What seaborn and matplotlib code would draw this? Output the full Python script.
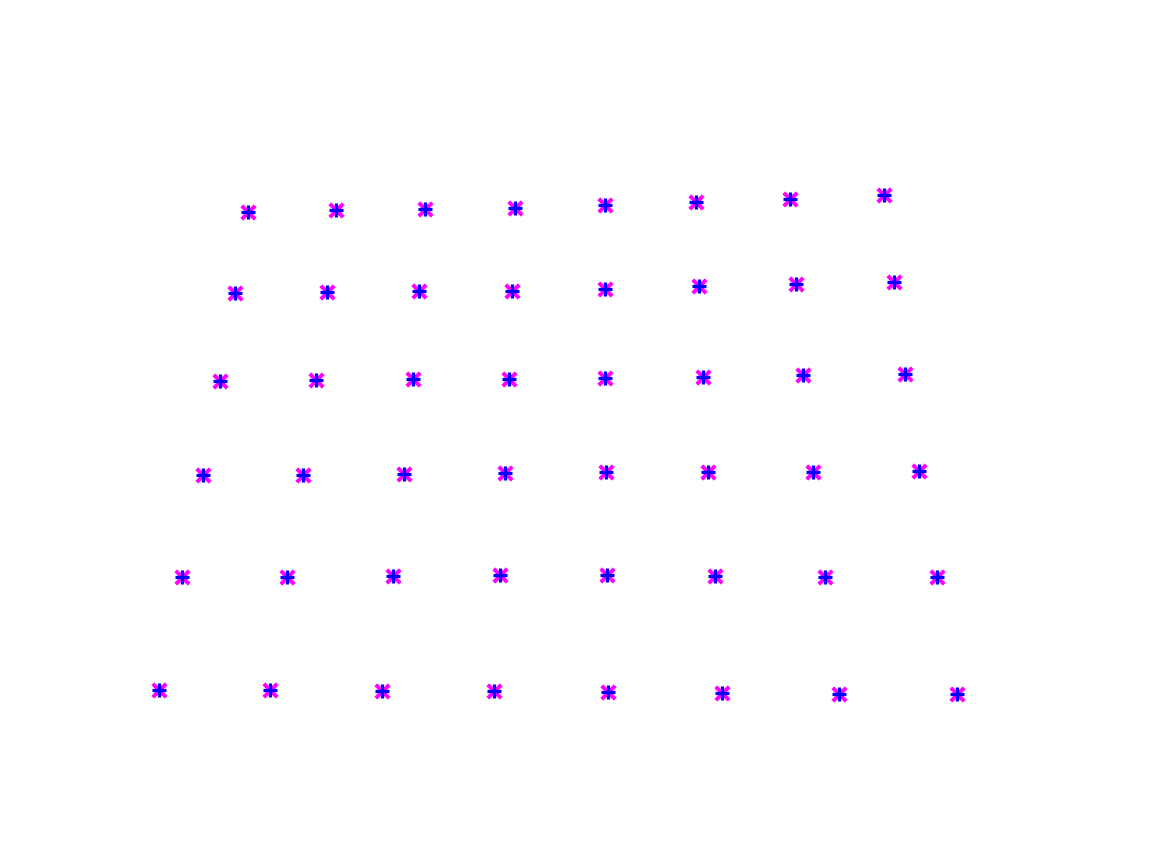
import pandas as pd
import matplotlib.pyplot as plt
import seaborn as sns

# grid points (x to the right, y upward), 6 rows x 8 cols
row1_x = [248, 336, 425, 515, 605, 696, 790, 884]
row1_y = [212, 210, 209, 208, 205, 202, 199, 195]
row2_x = [235, 327, 419, 512, 605, 699, 796, 894]
row2_y = [293, 292, 291, 291, 289, 286, 284, 282]
row3_x = [220, 316, 413, 509, 605, 703, 803, 905]
row3_y = [381, 380, 379, 379, 378, 377, 375, 374]
row4_x = [203, 303, 404, 505, 606, 708, 813, 919]
row4_y = [475, 475, 474, 473, 472, 472, 472, 471]
row5_x = [182, 287, 393, 500, 607, 715, 825, 937]
row5_y = [577, 577, 576, 575, 575, 576, 577, 577]
row6_x = [159, 270, 382, 494, 608, 722, 839, 957]
row6_y = [690, 690, 691, 691, 692, 693, 694, 694]

xs = row1_x + row2_x + row3_x + row4_x + row5_x + row6_x
ys = row1_y + row2_y + row3_y + row4_y + row5_y + row6_y
df = pd.DataFrame({'x': xs, 'y': [864 - v for v in ys]})

fig, ax = plt.subplots(figsize=(8, 6), dpi=144)
sns.scatterplot(data=df, x='x', y='y', marker='x', color='magenta', s=45, linewidth=2, ax=ax)
sns.scatterplot(data=df, x='x', y='y', marker='+', color='blue', s=45, linewidth=1.6, ax=ax)
ax.set_xlim(144, 1037)
ax.set_ylim(95, 760)
ax.axis('off')
plt.savefig('out.png')
